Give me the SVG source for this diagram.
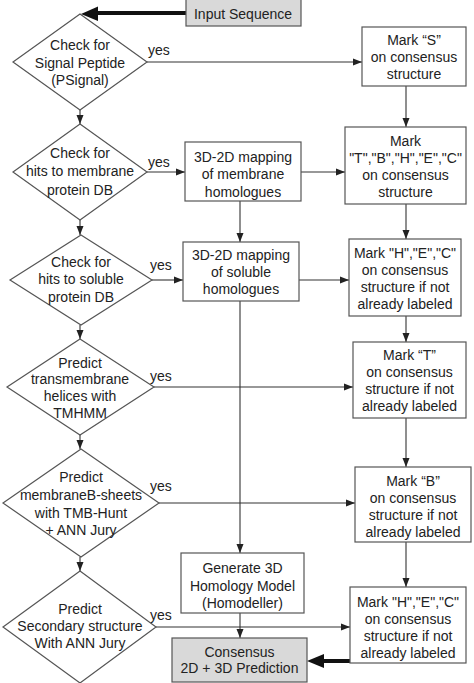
<svg xmlns="http://www.w3.org/2000/svg" width="474" height="683" viewBox="0 0 474 683">
<style>
.n{fill:#fff;stroke:#555;stroke-width:1.2}
.g{fill:#d9d9d9;stroke:#555;stroke-width:1.2}
text{font-family:"Liberation Sans",Arial,sans-serif;font-size:14px;fill:#222;text-anchor:middle}
.y{text-anchor:start}
.c{stroke:#333;stroke-width:1.1;fill:none;marker-end:url(#a)}
.t{stroke:#111;stroke-width:4;fill:none}
</style>
<defs>
<marker id="a" markerUnits="userSpaceOnUse" markerWidth="10" markerHeight="8" refX="9" refY="4" orient="auto">
<path d="M0,0.5 L9,4 L0,7.5 Z" fill="#222"/>
</marker>
</defs>
<g id="connectors">
<line class="t" x1="186" y1="13" x2="97" y2="13"/>
<polygon points="81,14 98,6.5 98,21" fill="#111"/>
<line class="c" x1="147" y1="62" x2="362" y2="62"/>
<line class="c" x1="406" y1="86" x2="406" y2="127"/>
<line class="c" x1="80" y1="110" x2="80" y2="124"/>
<line class="c" x1="147" y1="172" x2="185" y2="172"/>
<line class="c" x1="301" y1="172" x2="345" y2="172"/>
<line class="c" x1="406" y1="204" x2="406" y2="239"/>
<line class="c" x1="240" y1="201" x2="240" y2="242"/>
<line class="c" x1="80" y1="220" x2="80" y2="235"/>
<line class="c" x1="152" y1="280" x2="183" y2="280"/>
<line class="c" x1="299" y1="280" x2="349" y2="280"/>
<line class="c" x1="406" y1="316" x2="406" y2="342"/>
<line class="c" x1="240" y1="301" x2="240" y2="553"/>
<line class="c" x1="80" y1="325" x2="80" y2="339"/>
<line class="c" x1="154" y1="387" x2="353" y2="387"/>
<line class="c" x1="406" y1="418" x2="406" y2="467"/>
<line class="c" x1="80" y1="435" x2="80" y2="449"/>
<line class="c" x1="159" y1="503" x2="355" y2="503"/>
<line class="c" x1="406" y1="542" x2="406" y2="587"/>
<line class="c" x1="80" y1="557" x2="80" y2="571"/>
<line class="c" x1="156" y1="627" x2="350" y2="627"/>
<line class="c" x1="240" y1="613" x2="240" y2="638"/>
<line class="t" x1="350" y1="661" x2="323" y2="661"/>
<polygon points="307,661 324,654 324,668" fill="#111"/>
<text class="y" x="148" y="55">yes</text>
<text class="y" x="148" y="167">yes</text>
<text class="y" x="150" y="270">yes</text>
<text class="y" x="150" y="381">yes</text>
<text class="y" x="150" y="491">yes</text>
<text class="y" x="150" y="620">yes</text>
</g>
<g id="input"><rect class="g" x="186" y="-1" width="115" height="27"/><text x="243" y="19">Input Sequence</text></g>
<g id="d1"><polygon class="n" points="80,14 147,62 80,110 13,62"/><text x="80" y="50">Check for</text><text x="80" y="68">Signal Peptide</text><text x="80" y="85">(PSignal)</text></g>
<g id="markS"><rect class="n" x="362" y="27" width="104" height="59"/><text x="414" y="45">Mark “S”</text><text x="414" y="62">on consensus</text><text x="414" y="79">structure</text></g>
<g id="d2"><polygon class="n" points="80,124 147,172 80,220 13,172"/><text x="80" y="158">Check for</text><text x="80" y="176">hits to membrane</text><text x="80" y="195">protein DB</text></g>
<g id="map1"><rect class="n" x="185" y="142" width="116" height="59"/><text x="243" y="162">3D-2D mapping</text><text x="243" y="179">of membrane</text><text x="243" y="197">homologues</text></g>
<g id="markTBHEC"><rect class="n" x="345" y="127" width="121" height="77"/><text x="405.5" y="146">Mark</text><text x="405.5" y="163">"T","B","H","E","C"</text><text x="405.5" y="180">on consensus</text><text x="405.5" y="197">structure</text></g>
<g id="d3"><polygon class="n" points="81,235 152,280 81,325 10,280"/><text x="81" y="267">Check for</text><text x="81" y="284">hits to soluble</text><text x="81" y="302">protein DB</text></g>
<g id="map2"><rect class="n" x="183" y="242" width="116" height="59"/><text x="241" y="260">3D-2D mapping</text><text x="241" y="277">of soluble</text><text x="241" y="294">homologues</text></g>
<g id="markHEC1"><rect class="n" x="349" y="239" width="112" height="77"/><text x="405" y="258">Mark "H","E","C"</text><text x="405" y="275">on consensus</text><text x="405" y="292">structure if not</text><text x="405" y="309">already labeled</text></g>
<g id="d4"><polygon class="n" points="80,339 154,387 80,435 7,387"/><text x="80" y="368">Predict</text><text x="80" y="384">transmembrane</text><text x="80" y="401">helices with</text><text x="80" y="418">TMHMM</text></g>
<g id="markT"><rect class="n" x="353" y="342" width="113" height="76"/><text x="409.5" y="360">Mark “T”</text><text x="409.5" y="377">on consensus</text><text x="409.5" y="394">structure if not</text><text x="409.5" y="411">already labeled</text></g>
<g id="d5"><polygon class="n" points="81,449 159,503 81,557 3,503"/><text x="81" y="482">Predict</text><text x="81" y="500">membraneB-sheets</text><text x="81" y="518">with TMB-Hunt</text><text x="81" y="535">+ ANN Jury</text></g>
<g id="markB"><rect class="n" x="355" y="467" width="116" height="75"/><text x="413" y="486">Mark “B”</text><text x="413" y="503">on consensus</text><text x="413" y="520">structure if not</text><text x="413" y="537">already labeled</text></g>
<g id="gen"><rect class="n" x="181" y="553" width="123" height="60"/><text x="242.5" y="573">Generate 3D</text><text x="242.5" y="591">Homology Model</text><text x="242.5" y="608">(Homodeller)</text></g>
<g id="d6"><polygon class="n" points="80,571 156,627 80,683 3,627"/><text x="80" y="614">Predict</text><text x="80" y="631">Secondary structure</text><text x="80" y="648">With ANN Jury</text></g>
<g id="markHEC2"><rect class="n" x="350" y="587" width="116" height="76"/><text x="408" y="607">Mark "H","E","C"</text><text x="408" y="624">on consensus</text><text x="408" y="641">structure if not</text><text x="408" y="658">already labeled</text></g>
<g id="consensus"><rect class="g" x="172" y="638" width="135" height="44"/><text x="239.5" y="657">Consensus</text><text x="239.5" y="673">2D + 3D Prediction</text></g>
</svg>
